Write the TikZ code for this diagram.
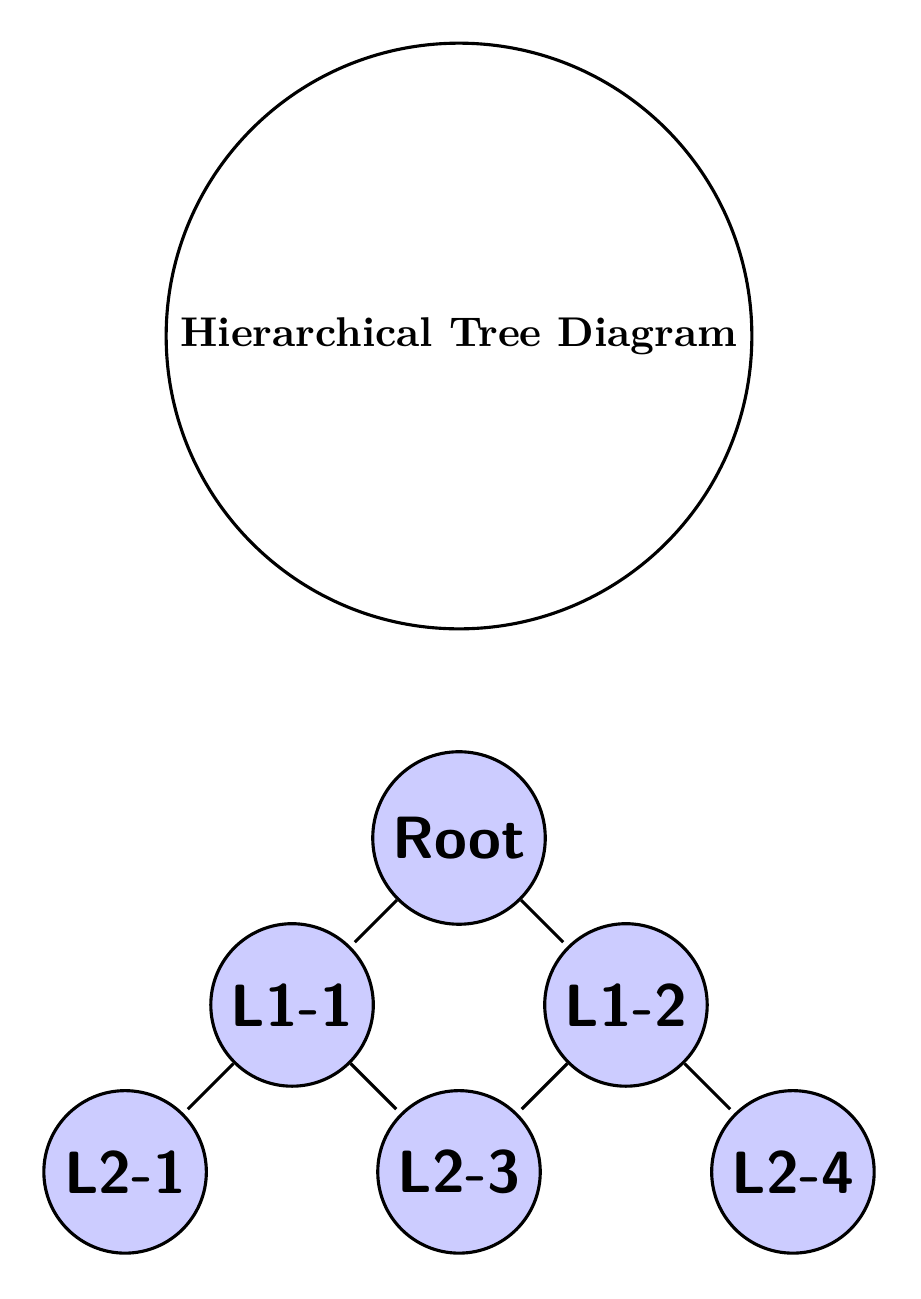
\documentclass[tikz,border=0pt]{standalone}
\begin{document}
\begin{tikzpicture}[thick,
  treenode/.style={circle,draw,fill=blue!20,minimum size=1.46cm,inner sep=0pt,font=\fontsize{15.25}{18}\selectfont\sffamily\bfseries},
  link/.style={shorten >=1.5pt}]
  \useasboundingbox (-4.124,-4.142) rectangle (4.142,7.529);
  % title bubble
  \node[circle,draw,font=\fontsize{10.63}{13}\selectfont\bfseries] (title) at (0,4.51) {Hierarchical Tree Diagram};
  % tree
  \node[treenode,minimum size=1.55cm] (root) at (0,0) {Root};
  \node[treenode] (l11) at (-1.5,-1.5) {L1-1};
  \node[treenode] (l12) at (1.5,-1.5) {L1-2};
  \node[treenode] (l21) at (-3,-3) {L2-1};
  \node[treenode] (l23) at (0,-3) {L2-3};
  \node[treenode] (l24) at (3,-3) {L2-4};
  \draw[link] (root) -- (l11);
  \draw[link] (root) -- (l12);
  \draw[link] (l11) -- (l21);
  \draw[link] (l11) -- (l23);
  \draw[link] (l12) -- (l23);
  \draw[link] (l12) -- (l24);
\end{tikzpicture}
\end{document}
